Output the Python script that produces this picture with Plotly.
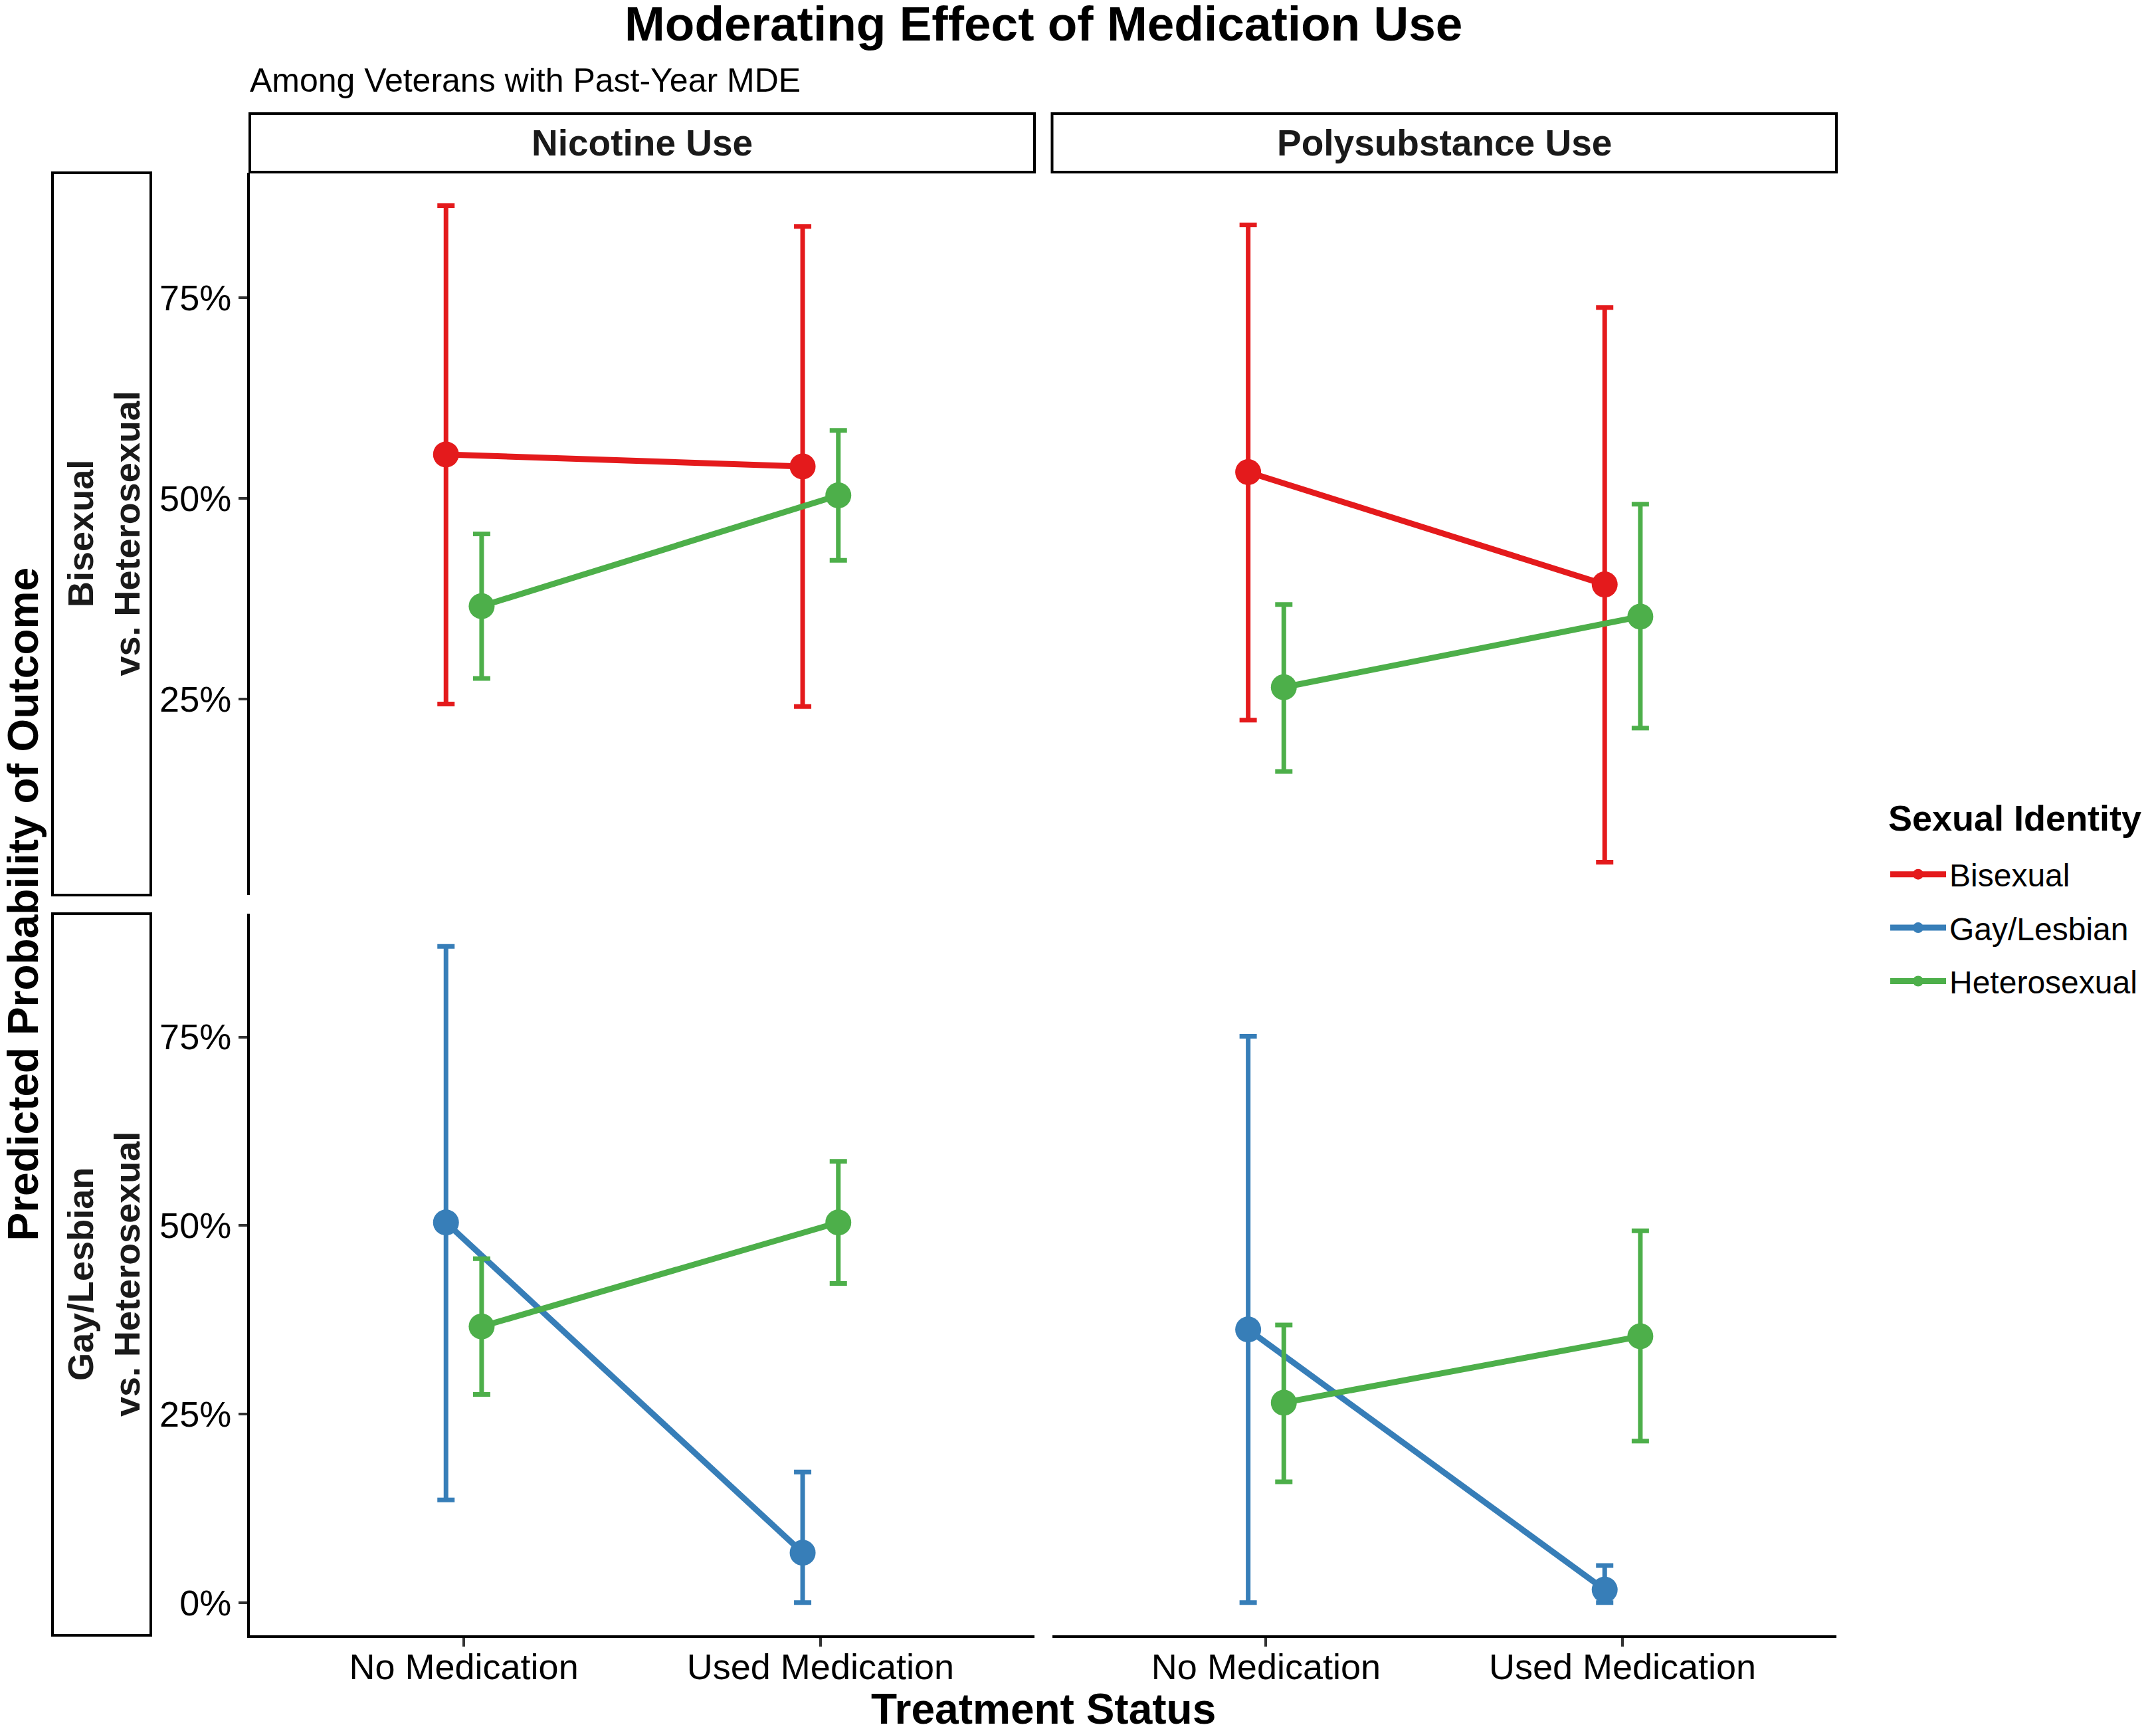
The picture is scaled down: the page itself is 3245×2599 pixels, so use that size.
import plotly.graph_objects as go


################################
######## DATA ########
################################

categories = ["No Medication", "Used Medication"]
substances = ["Nicotine Use", "Polysubstance Use"]
comparisons = ["Bisexual<br>vs. Heterosexual", "Gay/Lesbian<br>vs. Heterosexual"]
groups = ["Bisexual", "Gay/Lesbian", "Heterosexual"]
colors = {"Bisexual": "#E41A1C", "Gay/Lesbian": "#377EB8", "Heterosexual": "#4DAF4A"}

#### nicotine use (predicted %, lower CI, upper CI)
bi_nic_est = [55.5, 54.0]
bi_nic_lo = [24.4, 24.1]
bi_nic_hi = [86.5, 83.9]
gay_nic_est = [50.4, 6.6]
gay_nic_lo = [13.6, 0.0]
gay_nic_hi = [87.0, 17.3]
het_nic_est = [36.6, 50.4]
het_nic_lo = [27.6, 42.3]
het_nic_hi = [45.6, 58.5]

#### polysubstance use
bi_poly_est = [53.3, 39.3]
bi_poly_lo = [22.4, 4.7]
bi_poly_hi = [84.1, 73.8]
gay_poly_est = [36.2, 1.7]
gay_poly_lo = [0.0, 0.0]
gay_poly_hi = [75.1, 4.9]
het_poly_est = [26.5, 35.3]
het_poly_lo = [16.0, 21.4]
het_poly_hi = [36.8, 49.3]

y_ticks = [0, 25, 50, 75]
y_ticklabels = [f"{v}%" for v in y_ticks]

#### panels: row = comparison, col = substance
panels = {
    (0, 0): [("Bisexual", bi_nic_est, bi_nic_lo, bi_nic_hi), ("Heterosexual", het_nic_est, het_nic_lo, het_nic_hi)],
    (0, 1): [("Bisexual", bi_poly_est, bi_poly_lo, bi_poly_hi), ("Heterosexual", het_poly_est, het_poly_lo, het_poly_hi)],
    (1, 0): [("Gay/Lesbian", gay_nic_est, gay_nic_lo, gay_nic_hi), ("Heterosexual", het_nic_est, het_nic_lo, het_nic_hi)],
    (1, 1): [("Gay/Lesbian", gay_poly_est, gay_poly_lo, gay_poly_hi), ("Heterosexual", het_poly_est, het_poly_lo, het_poly_hi)],
}


################################
######## LAYOUT HELPERS ########
################################

W, H = 3245, 2599
FONT = "Arial, Liberation Sans, Helvetica, sans-serif"

def fx(px):
    return px / W

def fy(px):
    return 1 - px / H

col_px = [(376, 1557), (1583.5, 2764)]
row_px = [(260, 1347), (1375, 2461)]
strip_top_px = (171, 259)
strip_left_px = (79, 227)
dodge = 0.05


################################
######## PLOT ########
################################

fig = go.Figure()
shown = set()

for (r, c), series in panels.items():
    k = r * 2 + c + 1
    for g_i, (grp, est, lo, hi) in enumerate(series):
        offset = -dodge if g_i == 0 else dodge
        fig.add_trace(
            go.Scatter(
                x=[i + 1 + offset for i in range(len(categories))],
                y=est,
                mode="lines+markers",
                name=grp,
                legendgroup=grp,
                legendrank=groups.index(grp) + 1,
                showlegend=grp not in shown,
                line=dict(color=colors[grp], width=9),
                marker=dict(color=colors[grp], size=39),
                error_y=dict(
                    type="data",
                    symmetric=False,
                    array=[h - e for h, e in zip(hi, est)],
                    arrayminus=[e - l for e, l in zip(est, lo)],
                    color=colors[grp],
                    thickness=7,
                    width=13,
                ),
                xaxis=f"x{k}",
                yaxis=f"y{k}",
                hoverinfo="skip",
            )
        )
        shown.add(grp)

#### free y per row, 5% expansion like ggplot
row_ranges = []
for r in range(2):
    lows = [v for c in range(2) for s in panels[(r, c)] for v in s[2]]
    highs = [v for c in range(2) for s in panels[(r, c)] for v in s[3]]
    pad = 0.05 * (max(highs) - min(lows))
    row_ranges.append([min(lows) - pad, max(highs) + pad])

layout = dict(
    width=W,
    height=H,
    margin=dict(l=0, r=0, t=0, b=0),
    paper_bgcolor="white",
    plot_bgcolor="white",
    font=dict(family=FONT, color="black"),
    showlegend=True,
    legend=dict(
        x=fx(2840),
        y=fy(1278),
        xanchor="left",
        yanchor="top",
        font=dict(size=48, family=FONT),
        itemwidth=84,
        tracegroupgap=15,
        bgcolor="rgba(0,0,0,0)",
    ),
)

for r in range(2):
    for c in range(2):
        k = r * 2 + c + 1
        sfx = "" if k == 1 else str(k)
        layout[f"xaxis{sfx}"] = dict(
            domain=[fx(col_px[c][0]), fx(col_px[c][1])],
            anchor=f"y{k}",
            range=[0.4, 2.6],
            tickvals=[1, 2],
            ticktext=categories,
            showticklabels=(r == 1),
            showline=(r == 1),
            linecolor="black",
            linewidth=4,
            ticks="outside" if r == 1 else "",
            ticklen=13,
            tickwidth=4,
            tickcolor="#333333",
            ticklabelstandoff=-16,
            tickfont=dict(size=54, family=FONT, color="black"),
            showgrid=False,
            zeroline=False,
            fixedrange=True,
        )
        layout[f"yaxis{sfx}"] = dict(
            domain=[fy(row_px[r][1]), fy(row_px[r][0])],
            anchor=f"x{k}",
            range=row_ranges[r],
            tickvals=y_ticks,
            ticktext=y_ticklabels,
            showticklabels=(c == 0),
            showline=(c == 0),
            linecolor="black",
            linewidth=4,
            ticks="outside" if c == 0 else "",
            ticklen=13,
            tickwidth=4,
            tickcolor="#333333",
            tickfont=dict(size=54, family=FONT, color="black"),
            showgrid=False,
            zeroline=False,
            fixedrange=True,
        )

fig.update_layout(**layout)

#### strips
shapes = []
annotations = []
for c, label in enumerate(substances):
    shapes.append(dict(
        type="rect", xref="paper", yref="paper",
        x0=fx(col_px[c][0]), x1=fx(col_px[c][1]),
        y0=fy(strip_top_px[1]), y1=fy(strip_top_px[0]),
        line=dict(color="black", width=4), fillcolor="white", layer="below",
    ))
    annotations.append(dict(
        text=f"<b>{label}</b>", xref="paper", yref="paper",
        x=fx(sum(col_px[c]) / 2), y=fy(sum(strip_top_px) / 2),
        xanchor="center", yanchor="middle", showarrow=False,
        font=dict(size=55, family=FONT, color="#1a1a1a"),
    ))
for r, label in enumerate(comparisons):
    shapes.append(dict(
        type="rect", xref="paper", yref="paper",
        x0=fx(strip_left_px[0]), x1=fx(strip_left_px[1]),
        y0=fy(row_px[r][1]), y1=fy(row_px[r][0]),
        line=dict(color="black", width=4), fillcolor="white", layer="below",
    ))
    annotations.append(dict(
        text=f"<b>{label}</b>", xref="paper", yref="paper",
        x=fx(sum(strip_left_px) / 2 + 3), y=fy(sum(row_px[r]) / 2),
        xanchor="center", yanchor="middle", showarrow=False, textangle=-90,
        font=dict(size=54, family=FONT, color="#1a1a1a"),
    ))

#### titles
annotations += [
    dict(text="<b>Moderating Effect of Medication Use</b>", xref="paper", yref="paper",
         x=fx((col_px[0][0] + col_px[1][1]) / 2), y=fy(36), xanchor="center", yanchor="middle",
         showarrow=False, font=dict(size=73, family=FONT)),
    dict(text="Among Veterans with Past-Year MDE", xref="paper", yref="paper",
         x=fx(374), y=fy(121), xanchor="left", yanchor="middle",
         showarrow=False, font=dict(size=50, family=FONT)),
    dict(text="<b>Treatment Status</b>", xref="paper", yref="paper",
         x=fx((col_px[0][0] + col_px[1][1]) / 2), y=fy(2572), xanchor="center", yanchor="middle",
         showarrow=False, font=dict(size=64, family=FONT)),
    dict(text="<b>Predicted Probability of Outcome</b>", xref="paper", yref="paper",
         x=fx(34), y=fy((row_px[0][0] + row_px[1][1]) / 2), xanchor="center", yanchor="middle",
         textangle=-90, showarrow=False, font=dict(size=64, family=FONT)),
    dict(text="<b>Sexual Identity</b>", xref="paper", yref="paper",
         x=fx(2840), y=fy(1231), xanchor="left", yanchor="middle",
         showarrow=False, font=dict(size=54, family=FONT)),
]

fig.update_layout(shapes=shapes, annotations=annotations)

#### page body has a default 8px margin: drop it so the figure sits at the top-left corner
fig.write_html(
    "out.html",
    config={"displayModeBar": False},
    post_script="document.body.style.margin = '0';",
)
